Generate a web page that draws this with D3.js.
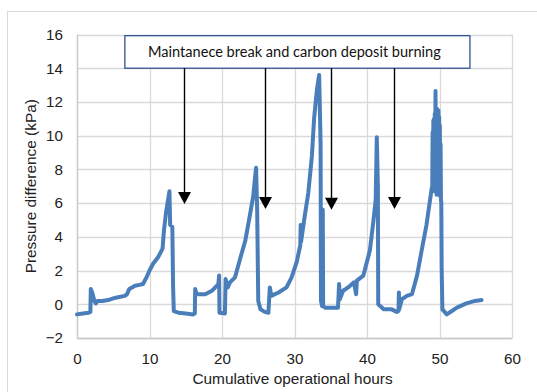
<!DOCTYPE html>
<html>
<head>
<meta charset="utf-8">
<script src="https://cdn.jsdelivr.net/npm/d3@7"></script>
<style>
  html, body { margin: 0; padding: 0; background: #fff; }
  svg { display: block; }
</style>
</head>
<body>
<svg id="chart" width="537" height="392"></svg>
<script>
// ---- data ----
const hours = [
  0, 0.8, 1.6, 1.85, 1.9, 2.1, 2.4, 2.6, 2.8, 3.5, 4.3, 5.0, 5.5, 6.6, 6.9, 7.2, 7.6, 8.0, 8.6, 9.1,
  9.6, 10.0, 10.5, 11.2, 11.8, 12.0, 12.3, 12.6, 12.75, 12.85, 13.15, 13.25, 13.35, 14.0, 15.0, 16.0,
  16.25, 16.3, 16.5, 17.7, 18.6, 19.5, 19.6, 19.65, 20.4, 20.5, 20.8, 21.1, 21.8, 22.5, 23.2, 23.9,
  24.3, 24.7, 24.85, 25.0, 25.3, 25.9, 26.4, 26.6, 26.8, 27.8, 28.9, 29.6, 30.3, 30.8, 30.85, 30.9,
  31.4, 31.9, 32.4, 32.7, 33.1, 33.4, 33.6, 33.65, 33.8, 33.9, 33.95, 34.2, 35.0, 36.0, 36.15, 36.25,
  36.7, 37.4, 38.2, 38.5, 38.6, 39.5, 40.4, 40.9, 41.2, 41.35, 41.5, 41.55, 42.3, 43.4, 44.1, 44.35,
  44.4, 44.45, 44.8, 45.5, 46.2, 46.9, 47.5, 48.2, 48.7, 48.9,
  49.0, 49.05, 49.1, 49.15, 49.2, 49.25, 49.3, 49.35, 49.4, 49.45, 49.5, 49.55, 49.6, 49.65, 49.7,
  49.75, 49.8, 49.85, 49.9, 49.95, 50.0, 50.05, 50.1, 50.15, 50.2,
  50.25, 50.3, 50.4, 51.0, 51.7, 52.4, 53.7, 54.9, 55.8
];
const pressure = [
  -0.6, -0.55, -0.5, -0.45, 0.9, 0.7, 0.2, 0.05, 0.2, 0.2, 0.25, 0.35, 0.4, 0.5, 0.6, 0.9, 1.0, 1.1, 1.15, 1.2,
  1.6, 2.0, 2.4, 2.8, 3.3, 4.4, 5.5, 6.3, 6.7, 4.7, 4.6, 1.1, -0.4, -0.5, -0.55, -0.6,
  -0.55, 0.9, 0.6, 0.6, 0.8, 1.2, 1.7, -0.5, -0.55, 1.5, 1.0, 1.3, 1.6, 2.7, 3.75, 5.4,
  6.4, 8.1, 5.6, 0.2, -0.3, -0.45, -0.5, 1.0, 0.5, 0.7, 1.0, 1.6, 2.5, 3.5, 4.7, 3.7,
  5.2, 6.6, 8.8, 11.0, 12.75, 13.6, 9.5, 0.2, -0.1, 5.6, -0.1, -0.2, -0.2, -0.2, 1.2, 0.3,
  0.8, 1.0, 1.3, 0.6, 1.4, 1.7, 3.2, 5.0, 6.2, 9.9, 7.0, 0.0, -0.3, -0.3, -0.45, -0.4,
  0.7, -0.3, 0.3, 0.5, 0.6, 1.7, 3.1, 4.7, 6.2, 6.8,
  7.0, 10.2, 6.8, 10.9, 7.2, 11.0, 6.7, 11.3, 7.5, 12.65, 8.5, 11.2, 6.5, 11.6, 7.0,
  11.4, 6.6, 11.5, 7.2, 11.1, 6.5, 10.6, 6.4, 9.5, 6.2,
  6.0, 2.1, -0.3, -0.6, -0.4, -0.2, 0.05, 0.2, 0.25
];
const xTicks = [0, 10, 20, 30, 40, 50, 60];
const yTicks = [-2, 0, 2, 4, 6, 8, 10, 12, 14, 16];
const arrowHours = [14.8, 25.9, 35.0, 43.7];
const arrowTipKPa = [5.95, 5.65, 5.6, 5.65];
const noteText = "Maintanece break and carbon deposit burning";
const noteHours = [6.6, 54.2];
const noteKPa = [15.93, 14.0];
const xTitle = "Cumulative operational hours";
const yTitle = "Pressure difference (kPa)";

// ---- layout ----
const W = 537, H = 392;
const plot = { left: 77, right: 512, top: 34.5, bottom: 338 };
const svg = d3.select("#chart");
const FONT = "Liberation Sans, Arial, sans-serif";

const x = d3.scaleLinear().domain([0, 60]).range([plot.left, plot.right]);
const y = d3.scaleLinear().domain([-2, 16]).range([plot.bottom, plot.top]);

// outer chart border
svg.append("rect")
  .attr("x", 7.5).attr("y", 11.5).attr("width", W + 20).attr("height", H + 20)
  .attr("fill", "#fff").attr("stroke", "#d9d9d9").attr("stroke-width", 1);

// gridlines
const grid = svg.append("g");
grid.selectAll("line.h").data(yTicks).join("line")
  .attr("x1", plot.left).attr("x2", plot.right)
  .attr("y1", d => Math.round(y(d)) + 0.5).attr("y2", d => Math.round(y(d)) + 0.5)
  .attr("stroke", "#d9d9d9").attr("stroke-width", 1.3);
grid.selectAll("line.v").data(xTicks).join("line")
  .attr("y1", plot.top).attr("y2", plot.bottom)
  .attr("x1", d => Math.round(x(d)) + 0.5).attr("x2", d => Math.round(x(d)) + 0.5)
  .attr("stroke", "#d9d9d9").attr("stroke-width", 1.3);

// axes
const xAxis = d3.axisBottom(x).tickValues(xTicks).tickSize(0).tickPadding(15);
const yAxis = d3.axisLeft(y).tickValues(yTicks).tickSize(0).tickPadding(14);
const gx = svg.append("g").attr("transform", `translate(0,${plot.bottom})`).call(xAxis);
const gy = svg.append("g").attr("transform", `translate(${plot.left},0)`).call(yAxis);
[gx, gy].forEach(g => {
  g.select(".domain").attr("stroke", "#c8c8c8").attr("stroke-width", 1.3);
  g.selectAll("text").attr("font-family", FONT)
    .attr("font-size", 15.2).attr("fill", "#222");
});

// series line
const pts = hours.map((h, i) => [h, pressure[i]]);
const line = d3.line().x(d => x(d[0])).y(d => y(d[1]));
svg.append("path").datum(pts)
  .attr("d", line).attr("fill", "none")
  .attr("stroke", "#4a7ebb").attr("stroke-width", 4)
  .attr("stroke-linejoin", "round").attr("stroke-linecap", "round");

// annotation box
const bx0 = x(noteHours[0]), bx1 = x(noteHours[1]);
const by0 = y(noteKPa[0]), by1 = y(noteKPa[1]);
svg.append("rect")
  .attr("x", bx0).attr("y", by0).attr("width", bx1 - bx0).attr("height", by1 - by0)
  .attr("fill", "#fff").attr("stroke", "#2f528f").attr("stroke-width", 1.3);
const note = svg.append("text")
  .attr("x", (bx0 + bx1) / 2 - 3).attr("y", (by0 + by1) / 2 + 5)
  .attr("text-anchor", "middle")
  .attr("font-family", "Lato, 'Open Sans', sans-serif")
  .attr("font-size", 14).attr("fill", "#111")
  .text(noteText);
// fit text width to reference (~293px)
const tw = note.node().getComputedTextLength();
note.attr("font-size", 14 * 293 / tw);

// arrows
const headH = 12, headW = 13;
arrowHours.forEach((h, i) => {
  const ax = Math.round(x(h)) + 0.5;
  const tip = y(arrowTipKPa[i]);
  svg.append("line")
    .attr("x1", ax).attr("x2", ax).attr("y1", by1).attr("y2", tip - headH + 1)
    .attr("stroke", "#000").attr("stroke-width", 1.4);
  svg.append("path")
    .attr("d", `M${ax - headW / 2},${tip - headH} L${ax + headW / 2},${tip - headH} L${ax},${tip} Z`)
    .attr("fill", "#000");
});

// axis titles
svg.append("text")
  .attr("x", (plot.left + plot.right) / 2 - 2).attr("y", 384)
  .attr("text-anchor", "middle")
  .attr("font-family", FONT).attr("font-size", 15.4).attr("fill", "#222")
  .text(xTitle);
svg.append("text")
  .attr("transform", `translate(36,${(plot.top + plot.bottom) / 2}) rotate(-90)`)
  .attr("text-anchor", "middle")
  .attr("font-family", FONT).attr("font-size", 15.4).attr("fill", "#222")
  .text(yTitle);
</script>
</body>
</html>
